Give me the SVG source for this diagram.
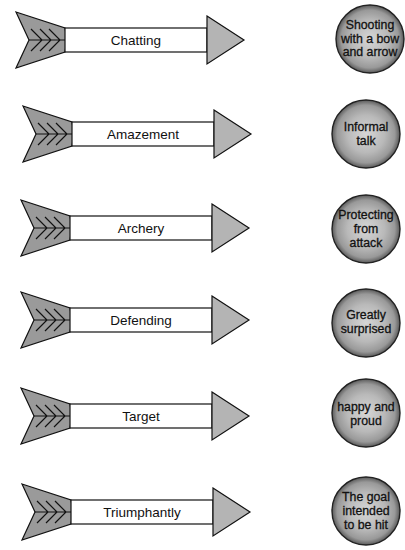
<svg xmlns="http://www.w3.org/2000/svg" xmlns:xlink="http://www.w3.org/1999/xlink" width="405" height="550" viewBox="0 0 405 550">
<style>
.tail{fill:#9a9a9a;stroke:#111;stroke-width:1.2;stroke-linejoin:miter}
.shaft{fill:#fff;stroke:#111;stroke-width:1.2}
.head{fill:#b4b4b4;stroke:#111;stroke-width:1.2}
.chev{fill:none;stroke:#111;stroke-width:1.2}
.lbl{font-family:"Liberation Sans",Arial,sans-serif;font-size:13.5px;fill:#111;text-anchor:middle}
.disc{fill:url(#discgrad);stroke:#222;stroke-width:1.4}
.def{font-family:"Liberation Sans",Arial,sans-serif;font-size:12.3px;fill:#111;stroke:#111;stroke-width:0.3;text-anchor:middle}
</style>
<defs>
<radialGradient id="discgrad" cx="0.5" cy="0.5" r="0.5">
<stop offset="0" stop-color="#d6d6d6"/>
<stop offset="0.55" stop-color="#b9b9b9"/>
<stop offset="0.85" stop-color="#999"/>
<stop offset="1" stop-color="#5a5a5a"/>
</radialGradient>
<g id="arrow">
<path class="tail" d="M0,-28 L49,-12 Q51.5,0 49,12 L0,28 L13,0 Z"/>
<path class="chev" d="M13,0 H50 M15,-11 L26,0 L15,11 M24,-11 L35,0 L24,11 M33,-11 L44,0 L33,11"/>
<rect class="shaft" x="49" y="-12" width="142" height="24"/>
<path class="head" d="M191,-24 L228,0 L191,24 Z"/>
</g>
</defs>
<g id="connectors"/>
<g id="arrow-chatting" transform="translate(16,40)">
<use href="#arrow"/>
<text class="lbl" x="120" y="5">Chatting</text>
</g>
<g id="arrow-amazement" transform="translate(23,134)">
<use href="#arrow"/>
<text class="lbl" x="120" y="5">Amazement</text>
</g>
<g id="arrow-archery" transform="translate(21,228)">
<use href="#arrow"/>
<text class="lbl" x="120" y="5">Archery</text>
</g>
<g id="arrow-defending" transform="translate(21,320)">
<use href="#arrow"/>
<text class="lbl" x="120" y="5">Defending</text>
</g>
<g id="arrow-target" transform="translate(21,416)">
<use href="#arrow"/>
<text class="lbl" x="120" y="5">Target</text>
</g>
<g id="arrow-triumphantly" transform="translate(22,512)">
<use href="#arrow"/>
<text class="lbl" x="120" y="5">Triumphantly</text>
</g>
<g id="def-shooting">
<circle class="disc" cx="370" cy="39" r="34"/>
<text class="def" x="370" y="29">Shooting</text>
<text class="def" x="370" y="42.5">with a bow</text>
<text class="def" x="370" y="56">and arrow</text>
</g>
<g id="def-informal">
<circle class="disc" cx="366" cy="134" r="34"/>
<text class="def" x="366" y="131">Informal</text>
<text class="def" x="366" y="145">talk</text>
</g>
<g id="def-protecting">
<circle class="disc" cx="366" cy="229" r="34"/>
<text class="def" x="366" y="219">Protecting</text>
<text class="def" x="366" y="233">from</text>
<text class="def" x="366" y="247">attack</text>
</g>
<g id="def-greatly">
<circle class="disc" cx="366" cy="323" r="34"/>
<text class="def" x="366" y="319">Greatly</text>
<text class="def" x="366" y="333">surprised</text>
</g>
<g id="def-happy">
<circle class="disc" cx="366" cy="413" r="34"/>
<text class="def" x="366" y="411">happy and</text>
<text class="def" x="366" y="425">proud</text>
</g>
<g id="def-goal">
<circle class="disc" cx="366" cy="511" r="34"/>
<text class="def" x="366" y="501">The goal</text>
<text class="def" x="366" y="515">intended</text>
<text class="def" x="366" y="529">to be hit</text>
</g>
</svg>
